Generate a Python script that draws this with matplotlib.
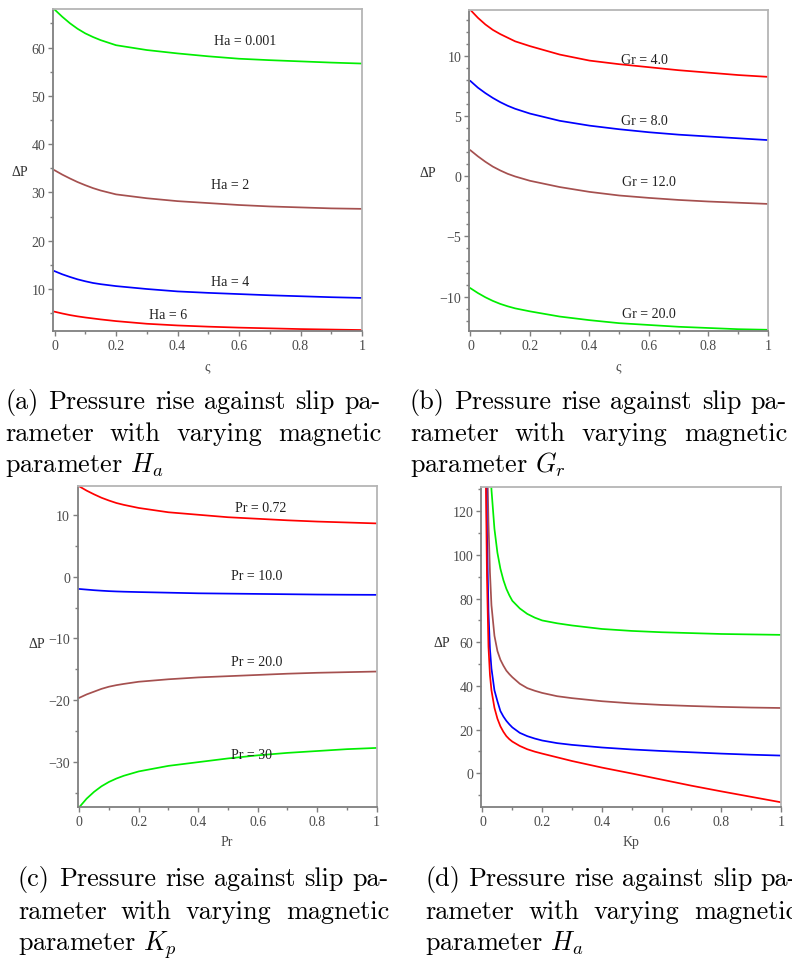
import matplotlib
matplotlib.use("Agg")
import matplotlib.pyplot as plt
import matplotlib.transforms as mtransforms
from matplotlib.ticker import MultipleLocator, FuncFormatter

# ---------------------------------------------------------------- data
zeta = [0, 0.025, 0.05, 0.075, 0.1, 0.125, 0.15, 0.2, 0.3, 0.4, 0.5, 0.6, 0.7, 0.8, 0.9, 1.0]

# (a) varying Ha
ha_labels = ["Ha = 0.001", "Ha = 2", "Ha = 4", "Ha = 6"]
dp_ha_0001 = [67.9, 66.4, 65.05, 63.9, 62.95, 62.2, 61.55, 60.5, 59.5, 58.8, 58.2, 57.7, 57.4, 57.15, 56.9, 56.7]
dp_ha_2 = [34.6, 33.7, 32.9, 32.15, 31.5, 30.9, 30.4, 29.6, 28.8, 28.2, 27.8, 27.4, 27.1, 26.9, 26.7, 26.6]
dp_ha_4 = [13.7, 13.05, 12.5, 12.0, 11.6, 11.25, 11.0, 10.6, 10.0, 9.5, 9.2, 8.95, 8.7, 8.5, 8.3, 8.15]
dp_ha_6 = [5.3, 4.93, 4.6, 4.33, 4.1, 3.9, 3.7, 3.35, 2.8, 2.45, 2.2, 2.0, 1.85, 1.7, 1.6, 1.5]

# (b) varying Gr
gr_labels = ["Gr = 4.0", "Gr = 8.0", "Gr = 12.0", "Gr = 20.0"]
dp_gr_4 = [13.8, 13.15, 12.6, 12.15, 11.8, 11.5, 11.2, 10.8, 10.1, 9.6, 9.3, 9.05, 8.8, 8.6, 8.4, 8.25]
dp_gr_8 = [7.9, 7.35, 6.9, 6.5, 6.15, 5.85, 5.6, 5.2, 4.6, 4.2, 3.9, 3.65, 3.45, 3.3, 3.15, 3.0]
dp_gr_12 = [2.15, 1.65, 1.2, 0.8, 0.48, 0.2, -0.02, -0.38, -0.9, -1.3, -1.6, -1.8, -1.97, -2.1, -2.2, -2.3]
dp_gr_20 = [-9.3, -9.7, -10.05, -10.35, -10.6, -10.8, -10.97, -11.22, -11.65, -11.95, -12.2, -12.35, -12.5, -12.6, -12.7, -12.75]

# (c) varying Pr
pr_labels = ["Pr = 0.72", "Pr = 10.0", "Pr = 20.0", "Pr = 30"]
dp_pr_072 = [14.6, 13.9, 13.3, 12.75, 12.3, 11.9, 11.6, 11.1, 10.4, 10.0, 9.6, 9.35, 9.1, 8.9, 8.75, 8.6]
dp_pr_10 = [-2.0, -2.1, -2.2, -2.28, -2.35, -2.4, -2.44, -2.5, -2.6, -2.7, -2.75, -2.8, -2.85, -2.9, -2.93, -2.95]
dp_pr_20 = [-19.6, -19.05, -18.6, -18.15, -17.8, -17.55, -17.35, -17.0, -16.6, -16.3, -16.1, -15.9, -15.7, -15.55, -15.45, -15.35]
dp_pr_30 = [-37.3, -35.9, -34.8, -33.9, -33.2, -32.65, -32.2, -31.5, -30.6, -30.0, -29.4, -28.9, -28.5, -28.2, -27.9, -27.7]

# (d) against Kp
kp = [0.01, 0.015, 0.02, 0.025, 0.03, 0.04, 0.05, 0.06, 0.07, 0.08, 0.09, 0.1, 0.125, 0.15,
      0.175, 0.2, 0.25, 0.3, 0.4, 0.5, 0.6, 0.7, 0.8, 0.9, 1.0]
dp_kp_green = [260, 200, 167, 145, 130, 112, 101, 93.7, 88.5, 84.5, 81.5, 79, 75.5, 73,
               71.3, 70, 68.7, 67.7, 66.1, 65.2, 64.6, 64.2, 63.8, 63.6, 63.4]
dp_kp_brown = [250, 150, 115, 92, 77, 63, 56, 52, 49.3, 47, 45.4, 44, 41, 39,
               37.8, 36.8, 35.3, 34.4, 33.0, 32.0, 31.3, 30.8, 30.4, 30.1, 29.9]
dp_kp_blue = [170, 110, 74, 57, 48, 38, 33, 28.5, 26, 24, 22.4, 21, 18.5, 17,
              15.9, 15, 13.8, 13.0, 11.8, 10.9, 10.2, 9.6, 9.0, 8.5, 8.1]
dp_kp_red = [150, 90, 58, 45, 38, 30, 25, 21.5, 19, 17, 15.6, 14.5, 12.5, 11,
             9.9, 9.0, 7.3, 5.6, 2.6, -0.1, -2.9, -5.7, -8.3, -10.8, -13.3]

captions = [
    ["(a) Pressure rise against slip pa-", "rameter with varying magnetic", "parameter $H_a$"],
    ["(b) Pressure rise against slip pa-", "rameter with varying magnetic", "parameter $G_r$"],
    ["(c) Pressure rise against slip pa-", "rameter with varying magnetic", "parameter $K_p$"],
    ["(d) Pressure rise against slip pa-", "rameter with varying magnetic", "parameter $H_a$"],
]

# ---------------------------------------------------------------- style
GREEN = "#00ee00"
BROWN = "#a5504f"
BLUE = "#0000ff"
RED = "#ff0000"
SERIF = ["Liberation Serif", "DejaVu Serif"]
plt.rcParams["mathtext.fontset"] = "cm"

W, H = 792, 962
fig = plt.figure(figsize=(W / 100, H / 100), dpi=100)


def make_axes(left, right, top, bottom):
    return fig.add_axes([left / W, 1 - bottom / H, (right - left) / W, (bottom - top) / H])


def fmt_x(v, pos):
    if abs(v) < 1e-9:
        return "0"
    if abs(v - 1) < 1e-9:
        return "1"
    return f"{v:.1f}"


def style_axes(ax, ylim, ymajor, yminor, xlabel, ylabel_x, ylabel_y):
    ax.set_xlim(-0.005, 1.0)
    ax.set_ylim(*ylim)
    ax.xaxis.set_major_locator(MultipleLocator(0.2))
    ax.xaxis.set_minor_locator(MultipleLocator(0.1))
    ax.yaxis.set_major_locator(MultipleLocator(ymajor))
    ax.yaxis.set_minor_locator(MultipleLocator(yminor))
    ax.xaxis.set_major_formatter(FuncFormatter(fmt_x))
    for side in ("left", "bottom"):
        ax.spines[side].set_color("#7f7f7f")
        ax.spines[side].set_linewidth(1.3)
    for side in ("top", "right"):
        ax.spines[side].set_color("#b5b5b5")
        ax.spines[side].set_linewidth(1.3)
    ax.tick_params(which="both", direction="out", color="#7f7f7f", width=1.0,
                   top=False, right=False, labelsize=10, labelcolor="#4a4a4a", pad=2)
    ax.tick_params(which="major", length=3.5)
    ax.tick_params(which="minor", length=2.5)
    for lab in ax.get_xticklabels() + ax.get_yticklabels():
        lab.set_family(SERIF)
    ax.set_xlabel(xlabel, family=SERIF, fontsize=10, color="#4a4a4a")
    ax.xaxis.set_label_coords(0.5, -0.087)
    ax.set_ylabel("ΔP", family=SERIF, fontsize=10, color="#303030", rotation=0, va="center", ha="center")
    ax.yaxis.set_label_coords(ylabel_x, ylabel_y)


def label(ax, x, y, s):
    ax.text(x, y, s, family=SERIF, fontsize=10, color="#202020", ha="center", va="center")


# (a)
ax_a = make_axes(53, 362, 10, 332)
for ys, c in [(dp_ha_0001, GREEN), (dp_ha_2, BROWN), (dp_ha_4, BLUE), (dp_ha_6, RED)]:
    ax_a.plot(zeta, ys, color=c, lw=1.25)
style_axes(ax_a, (1.3, 68.0), 10, 5, "ς", -0.107, 0.494)
for (x, y), s in zip([(0.62, 61.4), (0.57, 31.6), (0.57, 11.6), (0.37, 4.8)], ha_labels):
    label(ax_a, x, y, s)

# (b)
ax_b = make_axes(469, 768, 11, 332)
for ys, c in [(dp_gr_4, RED), (dp_gr_8, BLUE), (dp_gr_12, BROWN), (dp_gr_20, GREEN)]:
    ax_b.plot(zeta, ys, color=c, lw=1.25)
style_axes(ax_b, (-12.85, 13.8), 5, 1, "ς", -0.137, 0.495)
for (x, y), s in zip([(0.586, 9.67), (0.586, 4.66), (0.6, -0.4), (0.6, -11.4)], gr_labels):
    label(ax_b, x, y, s)

# (c)
ax_c = make_axes(77.7, 376.7, 487.3, 808.3)
for ys, c in [(dp_pr_072, RED), (dp_pr_10, BLUE), (dp_pr_20, BROWN), (dp_pr_30, GREEN)]:
    ax_c.plot(zeta, ys, color=c, lw=1.25)
style_axes(ax_c, (-37.3, 14.6), 10, 5, "Pr", -0.136, 0.509)
for (x, y), s in zip([(0.61, 11.25), (0.595, 0.2), (0.595, -13.7), (0.58, -28.8)], pr_labels):
    label(ax_c, x, y, s)

# (d)
ax_d = make_axes(481, 781, 488.3, 808.3)
for ys, c in [(dp_kp_green, GREEN), (dp_kp_brown, BROWN), (dp_kp_blue, BLUE), (dp_kp_red, RED)]:
    ax_d.plot(kp, ys, color=c, lw=1.25)
style_axes(ax_d, (-15.6, 131.0), 20, 10, "Kp", -0.13, 0.514)

# ---------------------------------------------------------------- captions
pix = mtransforms.IdentityTransform()
renderer = fig.canvas.get_renderer()
CAP_FONT = "cmr10"

probe = fig.text(0, 0, captions[0][0], family=CAP_FONT, fontsize=10, transform=pix)
cap_size = 10 * 372 / probe.get_window_extent(renderer).width
probe.remove()


def caption(lines, x0, width, baselines):
    for i, (line, yb) in enumerate(zip(lines, baselines)):
        ydisp = H - yb
        if i == len(lines) - 1:
            fig.text(x0, ydisp, line, family=CAP_FONT, fontsize=cap_size,
                     va="baseline", ha="left", transform=pix)
            continue
        words = line.split(" ")
        texts = [fig.text(0, ydisp, w, family=CAP_FONT, fontsize=cap_size,
                          va="baseline", ha="left", transform=pix) for w in words]
        widths = [t.get_window_extent(renderer).width for t in texts]
        gap = (width - sum(widths)) / (len(words) - 1)
        x = x0
        for t, w in zip(texts, widths):
            t.set_x(x)
            x += w + gap


caption(captions[0], 5, 376, [409, 441.5, 472])
caption(captions[1], 410, 377, [409, 441.5, 472])
caption(captions[2], 18, 371, [886, 919, 950.5])
caption(captions[3], 425, 372, [886, 919, 950.5])

fig.savefig("out.png", dpi=100, facecolor="white")
